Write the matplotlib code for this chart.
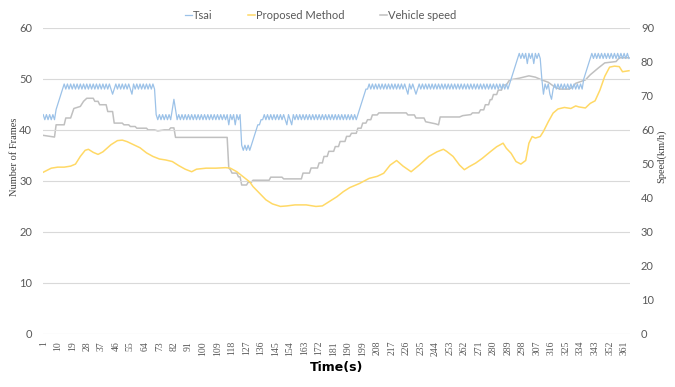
import matplotlib
matplotlib.use('Agg')
import matplotlib.pyplot as plt

# Tsai: frames per second (one value per second)
tsai_frames = [
    43, 42, 43, 42, 43, 42, 43, 42,
    44, 45, 46, 47, 48,
    49, 48, 49, 48, 49, 48, 49, 48, 49, 48, 49, 48, 49, 48, 49, 48, 49, 48, 49, 48, 49, 48, 49, 48, 49, 48, 49, 48, 49,
    48, 47, 48,
    49, 48, 49, 48, 49, 48, 49, 48, 49, 48,
    47,
    49, 48, 49, 48, 49, 48, 49, 48, 49, 48, 49, 48, 49, 48,
    43, 42, 43, 42, 43, 42, 43, 42, 43, 42,
    44, 46, 44, 42,
    43, 42, 43, 42, 43, 42, 43, 42, 43, 42, 43, 42, 43, 42, 43, 42, 43, 42, 43, 42, 43, 42, 43, 42, 43, 42, 43, 42, 43, 42,
    43, 41, 43, 42, 43, 41, 43, 42, 43,
    37, 36, 37, 36, 37, 36, 37,
    38, 39, 40, 41, 41, 42, 42, 43,
    42, 43, 42, 43, 42, 43, 42, 43, 42, 43, 42, 43, 42,
    41, 43, 42, 41, 43,
    42, 43, 42, 43, 42, 43, 42, 43, 42, 43, 42, 43, 42, 43, 42, 43, 42, 43, 42, 43,
    42, 43, 42, 43, 42, 43, 42, 43, 42, 43, 42, 43, 42, 43, 42, 43, 42, 43, 42, 43,
    44, 45, 46, 47, 48, 48,
    49, 48, 49, 48, 49, 48, 49, 48, 49, 48, 49, 48, 49, 48, 49, 48, 49, 48, 49, 48, 49, 48, 49, 48,
    47, 49, 48, 49, 48, 47, 48,
    49, 48, 49, 48, 49, 48, 49, 48, 49, 48, 49, 48, 49, 48, 49, 48, 49, 48, 49, 48,
    49, 48, 49, 48, 49, 48, 49, 48, 49, 48, 49, 48, 49, 48, 49, 48, 49, 48, 49, 48,
    49, 48, 49, 48, 49, 48, 49, 48, 49, 48, 49, 48, 49, 48, 49, 48, 49,
    50, 51, 52, 53, 54, 55,
    54, 55, 54, 55, 53, 55, 54, 55, 53, 55, 54, 55, 54,
    50, 47, 49, 48, 49, 47, 46, 48, 49,
    48, 49, 48, 49, 48, 49, 48, 49, 48, 49, 48, 49, 48, 49, 48, 49, 48,
    50, 51, 52, 53, 54, 55,
    54, 55, 54, 55, 54, 55, 54, 55, 54, 55, 54, 55, 54, 55, 54, 55, 54, 55, 54, 55, 54, 55, 54,
]
tsai_t = list(range(1, len(tsai_frames) + 1))

# Proposed method: frames, read at these times
prop_t = [1, 6, 10, 14, 18, 21, 24, 27, 29, 32, 35, 38, 43, 47, 50, 53, 57, 61, 65, 69,
          73, 77, 81, 85, 89, 93, 96, 102, 108, 114, 117, 121, 125, 129, 131, 135, 139, 143, 148, 152,
          157, 164, 170, 174, 178, 183, 187, 191, 197, 203, 208, 212, 216, 220, 224, 229, 234, 240, 245, 249,
          251, 255, 259, 262, 265, 269, 273, 278, 282, 286, 288, 291, 294, 297, 300, 302, 304, 306, 309, 311,
          314, 317, 320, 324, 328, 331, 333, 337, 340, 343, 346, 349, 352, 355, 358, 360, 364]
prop_frames = [31.7, 32.5, 32.7, 32.7, 32.9, 33.3, 34.8, 36.0, 36.2, 35.6, 35.2, 35.7, 37.1, 37.9, 38.0, 37.7, 37.1, 36.5, 35.5, 34.8,
               34.3, 34.1, 33.8, 33.0, 32.3, 31.8, 32.3, 32.5, 32.5, 32.6, 32.5, 31.8, 30.8, 29.8, 28.9, 27.6, 26.3, 25.5, 25.0, 25.1,
               25.3, 25.3, 25.0, 25.1, 25.9, 26.9, 27.9, 28.7, 29.5, 30.5, 30.9, 31.5, 33.1, 34.0, 32.9, 31.8, 33.1, 34.8, 35.7, 36.2,
               35.8, 34.8, 33.1, 32.2, 32.8, 33.5, 34.4, 35.7, 36.7, 37.4, 36.4, 35.4, 33.8, 33.3, 34.0, 37.4, 38.7, 38.4, 38.7, 39.7,
               41.6, 43.3, 44.1, 44.4, 44.2, 44.7, 44.5, 44.3, 45.2, 45.7, 47.8, 50.5, 52.3, 52.5, 52.4, 51.4, 51.6]

# Vehicle speed (km/h, right axis), read at these times
speed_t = [1, 8, 9, 14, 15, 18, 20, 24, 26, 28, 32, 33, 35, 36, 40, 41, 44, 45, 50, 51,
           54, 55, 58, 59, 65, 66, 70, 72, 76, 79, 80, 82, 83, 115, 116, 117, 118, 121, 122, 123,
           124, 127, 128, 130, 131, 141, 142, 149, 150, 161, 162, 166, 167, 171, 172, 174, 175, 177, 178, 181,
           182, 184, 185, 188, 189, 191, 192, 195, 196, 198, 199, 201, 202, 204, 205, 208, 209, 226, 227, 231,
           232, 237, 238, 241, 244, 246, 247, 259, 261, 266, 267, 271, 272, 274, 275, 277, 278, 279, 280, 282,
           283, 285, 286, 288, 290, 296, 302, 306, 310, 314, 318, 321, 327, 329, 331, 337, 340, 345, 349, 356,
           358, 364]
speed_kmh = [58.4, 57.9, 61.5, 61.5, 63.5, 63.5, 66.3, 66.9, 68.4, 69.3, 69.3, 68.4, 68.4, 67.4, 67.4, 65.4, 65.4, 62.0, 62.0, 61.5,
             61.5, 61.0, 61.0, 60.5, 60.5, 60.0, 60.0, 59.7, 60.0, 60.0, 60.6, 60.6, 57.8, 57.8, 48.8, 48.3, 47.3, 47.3, 46.2, 46.2,
             43.8, 43.8, 44.6, 44.6, 45.2, 45.2, 46.1, 46.1, 45.6, 45.6, 47.3, 47.3, 48.8, 48.8, 50.3, 50.3, 52.2, 52.2, 53.7, 53.7,
             55.1, 55.1, 56.6, 56.6, 58.1, 58.1, 59.0, 59.0, 60.5, 60.5, 62.0, 62.0, 63.0, 63.0, 64.4, 64.4, 65.0, 65.0, 64.4, 64.4,
             63.5, 63.5, 62.4, 62.1, 61.8, 61.5, 63.8, 63.8, 64.2, 64.5, 65.0, 65.0, 65.9, 65.9, 67.4, 67.4, 68.9, 68.9, 70.4, 70.4,
             71.7, 71.7, 73.2, 73.2, 74.7, 75.2, 75.9, 75.5, 74.7, 74.0, 72.6, 72.0, 72.0, 72.6, 73.7, 74.7, 76.2, 78.2, 79.7, 80.1,
             81.2, 81.2]

x_ticks = list(range(1, 362, 9))

fig = plt.figure(figsize=(6.75, 3.87), dpi=100)
ax = fig.add_axes([0.064, 0.137, 0.869, 0.791])
ax2 = ax.twinx()

l1, = ax.plot(tsai_t, tsai_frames, color='#9cc2e8', lw=0.9, label='Tsai')
l2, = ax.plot(prop_t, prop_frames, color='#ffd966', lw=1.1, label='Proposed Method')
l3, = ax2.plot(speed_t, speed_kmh, color='#c0c0c0', lw=1.1, label='Vehicle speed')
ax.set_zorder(ax2.get_zorder() + 1)
ax.patch.set_visible(False)

ax.set_xlim(1, 364.5)
ax.set_ylim(0, 60)
ax2.set_ylim(0, 90)
ax.set_yticks(range(0, 61, 10))
ax2.set_yticks(range(0, 91, 10))
ax.set_xticks(x_ticks)
ax.set_xticklabels([str(v) for v in x_ticks], rotation=90, fontsize=7,
                   color='#595959', family='Liberation Serif')

ax.grid(axis='y', color='#d9d9d9', lw=0.8)
ax.set_axisbelow(True)
for a in (ax, ax2):
    for s in a.spines.values():
        s.set_visible(False)
    a.tick_params(length=0)
ax.tick_params(axis='y', labelsize=8, labelcolor='#595959', pad=8)
ax2.tick_params(axis='y', labelsize=8, labelcolor='#595959', pad=8)
ax.tick_params(axis='x', pad=5)
for lab in ax.get_yticklabels() + ax2.get_yticklabels():
    lab.set_family('Lato')

ax.set_ylabel('Number of Frames', family='Liberation Serif', fontsize=7.5, color='#404040')
ax.yaxis.set_label_coords(-0.042, 0.58)
ax2.set_ylabel('Speed(km/h)', family='Liberation Serif', fontsize=7.5, color='#404040')
ax2.yaxis.set_label_coords(1.045, 0.58)
ax.set_xlabel('Time(s)', fontsize=9, fontweight='bold', labelpad=4)

fig.legend(handles=[l1, l2, l3], loc='upper center', bbox_to_anchor=(0.475, 1.0),
           ncol=3, frameon=False, prop={'family': 'Lato', 'size': 8},
           handlelength=0.6, handletextpad=0.1, columnspacing=3.2,
           labelcolor='#595959')

fig.savefig('out.png', dpi=100)
